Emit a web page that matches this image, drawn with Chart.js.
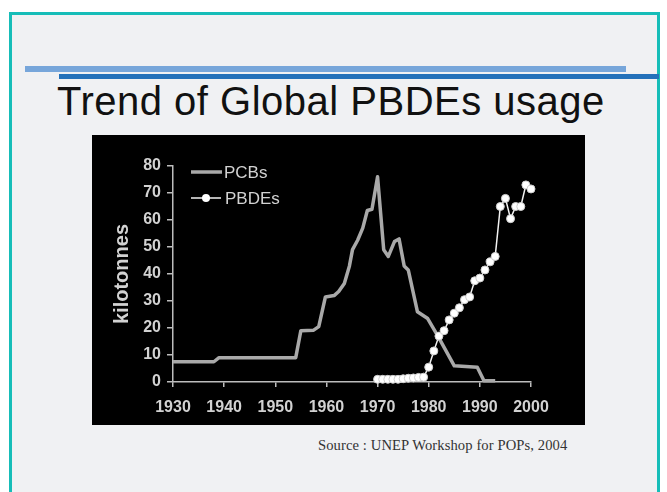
<!DOCTYPE html>
<html>
<head>
<meta charset="utf-8">
<script src="https://cdn.jsdelivr.net/npm/chart.js@4.4.1/dist/chart.umd.min.js"></script>
<style>
  html, body { margin: 0; padding: 0; background: #ffffff; width: 667px; height: 492px; overflow: hidden; }
  .slide {
    position: absolute; left: 9px; top: 12px; width: 645px; height: 500px;
    background: #f0f1f3; border: 3px solid #16bdb8; border-bottom: none;
  }
  .bar1 { position: absolute; left: 25px; top: 66px; width: 601px; height: 6px; background: #77a6da; }
  .bar2 { position: absolute; left: 59px; top: 74px; width: 600px; height: 5px; background: #2371ba; }
  .title {
    position: absolute; left: 57px; top: 81px; line-height: 40px; white-space: nowrap;
    font-family: "Liberation Sans", Arial, sans-serif; font-size: 40px; color: #111;
    letter-spacing: 0.5px;
  }
  .chartBox { position: absolute; left: 92px; top: 135px; width: 493px; height: 290px; background: #000; }
  .source {
    position: absolute; left: 318px; top: 437px; white-space: nowrap;
    font-family: "Liberation Serif", "Times New Roman", serif; font-size: 14.6px; color: #333;
    letter-spacing: 0.1px;
  }
</style>
</head>
<body>
<div class="slide"></div>
<div class="bar1"></div>
<div class="bar2"></div>
<div class="title">Trend of Global PBDEs usage</div>
<div class="chartBox"><canvas id="trendChart" width="493" height="290"></canvas></div>
<div class="source">Source : UNEP Workshop for POPs, 2004</div>

<script>
// values (kilotonnes per year)
const pcbYears = [1930, 1938, 1939, 1954, 1955, 1957.5, 1958.5, 1959.8, 1961.5, 1962.4, 1963.5, 1964.5, 1965.1, 1966.1, 1967.1, 1968, 1968.9, 1970, 1971.2, 1972.1, 1973.3, 1974.2, 1975.2, 1976, 1977.8, 1979.8, 1981.8, 1985, 1989.5, 1990.8, 1993];
const pcbValues = [7.5, 7.5, 9, 9, 19, 19.2, 20.5, 31.5, 32, 33.5, 36.5, 43, 49, 52.5, 57, 63.5, 64, 76, 49, 46.5, 52, 53, 43, 41.5, 26, 23.5, 17, 6, 5.5, 0.5, 0.5];

const pbdeYears = [1970, 1971, 1972, 1973, 1974, 1975, 1976, 1977, 1978, 1979, 1980, 1981, 1982, 1983, 1984, 1985, 1986, 1987, 1988, 1989, 1990, 1991, 1992, 1993, 1994, 1995, 1996, 1997, 1998, 1999, 2000];
const pbdeValues = [1, 1, 1, 1, 1, 1.2, 1.4, 1.5, 1.7, 1.8, 5.5, 11.5, 17, 19, 23, 25.5, 27.5, 30.5, 31.5, 37.5, 38.5, 41.5, 44.5, 46.5, 65, 68, 60.5, 65, 65, 73, 71.5];

const xTicks = [1930, 1940, 1950, 1960, 1970, 1980, 1990, 2000];
const yTicks = [0, 10, 20, 30, 40, 50, 60, 70, 80];
const seriesNames = ['PCBs', 'PBDEs'];

const axisColor = '#bdbdbd';
const labelColor = '#d2d2d2';
const pcbColor = '#a9a9a9';
const pbdeColor = '#f2f2f2';

const toPoints = (xs, ys) => xs.map((x, i) => ({ x: x, y: ys[i] }));

// legend drawn in the upper left of the plot, line + marker like the original
const insideLegend = {
    id: 'insideLegend',
    afterDatasetsDraw(chart) {
        const ctx = chart.ctx;
        const left = chart.chartArea.left + 18;
        ctx.save();
        ctx.font = '17px "Liberation Sans", Arial, sans-serif';
        ctx.textBaseline = 'middle';
        ctx.fillStyle = labelColor;

        // PCBs
        let y = chart.chartArea.top + 6;
        ctx.strokeStyle = pcbColor;
        ctx.lineWidth = 3.5;
        ctx.beginPath();
        ctx.moveTo(left, y);
        ctx.lineTo(left + 31, y);
        ctx.stroke();
        ctx.fillText(seriesNames[0], left + 33, y + 1);

        // PBDEs
        y = chart.chartArea.top + 32;
        ctx.strokeStyle = pbdeColor;
        ctx.lineWidth = 1.5;
        ctx.beginPath();
        ctx.moveTo(left, y);
        ctx.lineTo(left + 30, y);
        ctx.stroke();
        ctx.fillStyle = '#ffffff';
        ctx.beginPath();
        ctx.arc(left + 15, y, 4, 0, Math.PI * 2);
        ctx.fill();
        ctx.fillStyle = labelColor;
        ctx.fillText(seriesNames[1], left + 34, y + 1);
        ctx.restore();
    }
};

new Chart(document.getElementById('trendChart'), {
    type: 'line',
    data: {
        datasets: [
            {
                label: seriesNames[1],
                data: toPoints(pbdeYears, pbdeValues),
                borderColor: pbdeColor,
                borderWidth: 1.5,
                pointRadius: 4,
                pointBackgroundColor: '#ffffff',
                pointBorderColor: '#cfcfcf',
                pointBorderWidth: 1,
                tension: 0,
                clip: false
            },
            {
                label: seriesNames[0],
                data: toPoints(pcbYears, pcbValues),
                borderColor: pcbColor,
                borderWidth: 3.5,
                borderJoinStyle: 'round',
                pointRadius: 0,
                tension: 0,
                clip: false
            }
        ]
    },
    options: {
        responsive: false,
        animation: false,
        layout: { padding: { top: 31, right: 54, left: 0, bottom: 0 } },
        plugins: {
            legend: { display: false },
            tooltip: { enabled: false }
        },
        scales: {
            x: {
                type: 'linear',
                min: xTicks[0],
                max: xTicks[xTicks.length - 1],
                afterBuildTicks: (axis) => { axis.ticks = xTicks.map(v => ({ value: v })); },
                afterFit: (axis) => { axis.height = 43; },
                grid: { drawOnChartArea: false, drawTicks: true, tickLength: 5, color: axisColor, lineWidth: 1.5 },
                border: { display: true, color: axisColor, width: 1.5 },
                ticks: {
                    color: labelColor,
                    padding: 11,
                    maxRotation: 0,
                    font: { family: '"Liberation Sans", Arial, sans-serif', size: 16, weight: 'bold' },
                    callback: (v) => String(v)
                }
            },
            y: {
                min: yTicks[0],
                max: yTicks[yTicks.length - 1],
                afterBuildTicks: (axis) => { axis.ticks = yTicks.map(v => ({ value: v })); },
                afterFit: (axis) => { axis.width = 81; },
                grid: { drawOnChartArea: false, drawTicks: true, tickLength: 6, color: axisColor, lineWidth: 1.5 },
                border: { display: true, color: axisColor, width: 1.5 },
                ticks: {
                    color: labelColor,
                    padding: 6,
                    font: { family: '"Liberation Sans", Arial, sans-serif', size: 16, weight: 'bold' }
                },
                title: {
                    display: true,
                    text: 'kilotonnes',
                    color: labelColor,
                    padding: { top: 18, bottom: 0 },
                    font: { family: '"Liberation Sans", Arial, sans-serif', size: 20, weight: 'bold' }
                }
            }
        }
    },
    plugins: [insideLegend]
});
</script>
</body>
</html>
